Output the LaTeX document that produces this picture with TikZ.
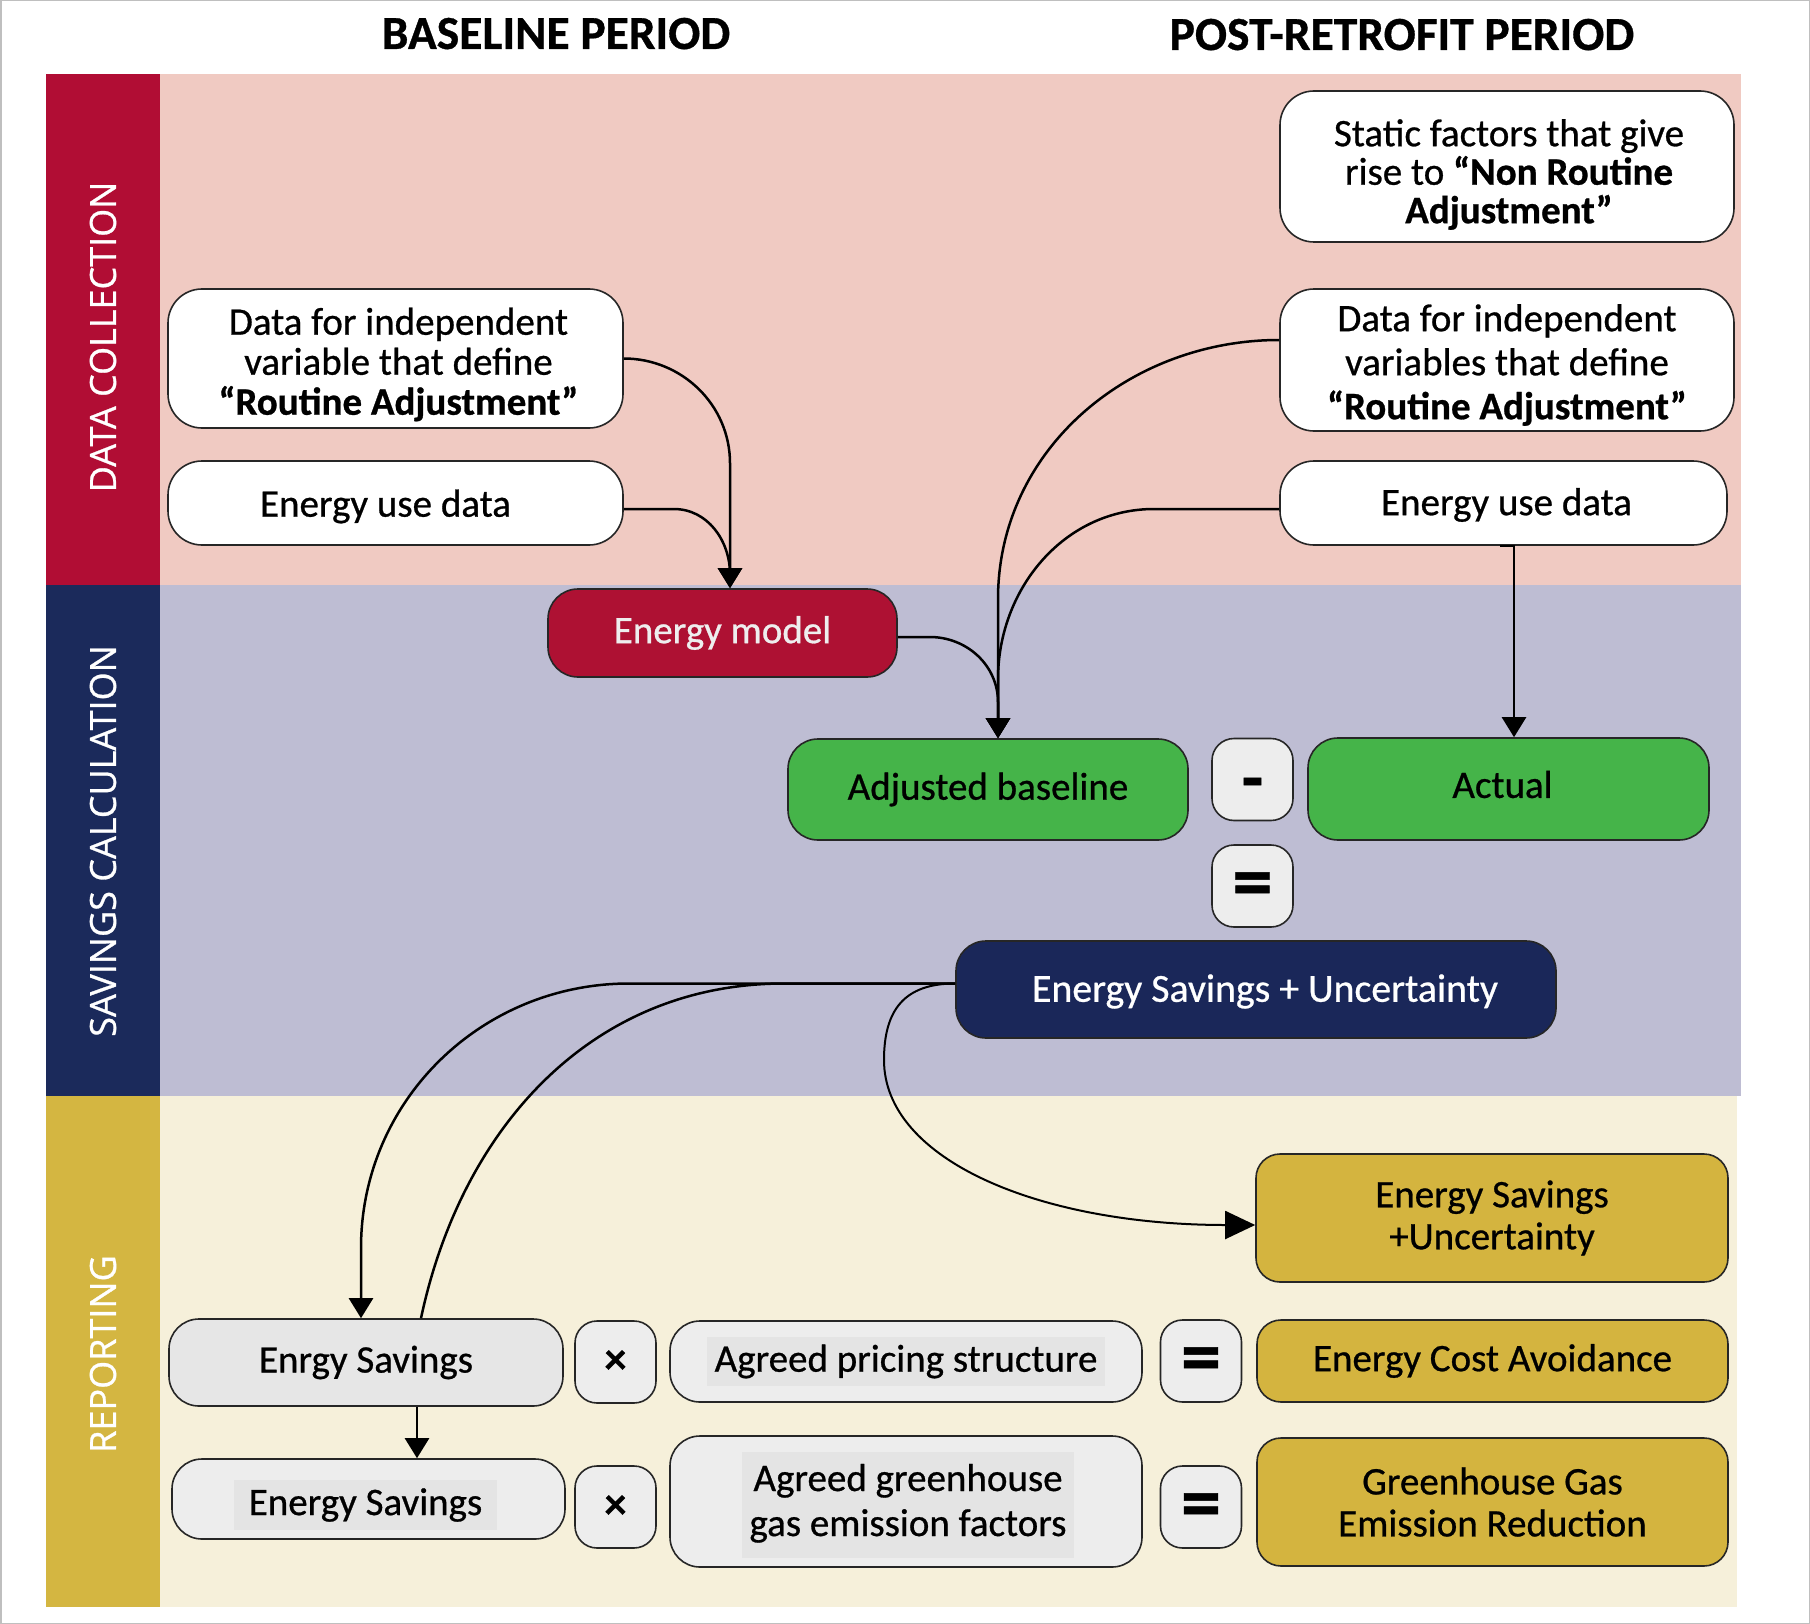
\documentclass[tikz,border=0pt]{standalone}
\usepackage{fontspec}
\setmainfont{Carlito}[UprightFeatures={FakeBold=0.7},BoldFeatures={FakeBold=0.7}]
\newfontfamily\sidefont{Open Sans}[UprightFeatures={FakeBold=0.8}]
\usetikzlibrary{arrows.meta,calc}
\definecolor{dcband}{HTML}{B10D34}
\definecolor{dcbg}{HTML}{F0CAC2}
\definecolor{scband}{HTML}{1B2A5B}
\definecolor{scbg}{HTML}{BEBDD3}
\definecolor{rpband}{HTML}{D4B641}
\definecolor{rpbg}{HTML}{F6F0DA}
\definecolor{modelred}{HTML}{AE1133}
\definecolor{greenbox}{HTML}{45B449}
\definecolor{navybox}{HTML}{1A2759}
\definecolor{goldbox}{HTML}{D4B43F}
\definecolor{graybox}{HTML}{E6E6E6}
\definecolor{dotbox}{HTML}{EDEDED}
\definecolor{hl}{HTML}{E4E4E4}
\definecolor{modeltext}{HTML}{EEEEEE}
\setlength{\fboxsep}{8pt}
\tikzset{
  bx/.style={draw=black!85, line width=1.6pt, rounded corners=30pt},
  wbox/.style={bx, fill=white, rounded corners=34pt},
  redbox/.style={bx, fill=modelred, text=modeltext},
  grnbox/.style={bx, fill=greenbox},
  navbox/.style={bx, fill=navybox, text=white},
  gldbox/.style={bx, fill=goldbox, rounded corners=24pt},
  gbox/.style={bx, fill=graybox},
  dbox/.style={bx, fill=dotbox},
  opbox/.style={bx, fill=dotbox, rounded corners=22pt, minimum width=81pt, minimum height=82pt},
  bigop/.style={font=\bfseries\fontsize{80}{80}\selectfont},
  midop/.style={font=\bfseries\fontsize{44}{44}\selectfont},
  side/.style={font=\sidefont\fontsize{36}{36}\selectfont, text=white, rotate=90},
  ttl/.style={font=\bfseries\fontsize{47.5}{48}\selectfont, anchor=base},
  conn/.style={line width=2.5pt, draw=black},
  arr/.style={conn, -{Triangle[width=24pt,length=20pt]}},
  arrbig/.style={conn, line width=2pt, -{Triangle[width=28pt,length=30pt]}},
  every node/.style={font=\fontsize{39}{42}\selectfont, inner sep=0pt, align=center}
}
\begin{document}
\begin{tikzpicture}[x=1pt,y=-1pt]
\useasboundingbox (0,0) rectangle (1810,1624);
\fill[white] (0,0) rectangle (1810,1624);
\draw[draw=black!25, line width=3pt] (0,0) rectangle (1810,1624);

% bands
\fill[dcbg] (160,74) rectangle (1741,585);
\fill[dcband] (46,74) rectangle (160,585);
\fill[scbg] (160,585) rectangle (1741,1096);
\fill[scband] (46,585) rectangle (160,1096);
\fill[rpbg] (160,1096) rectangle (1737,1607);
\fill[rpband] (46,1096) rectangle (160,1607);

% titles and side labels
\node[ttl] (t1) at (556,49) {BASELINE PERIOD};
\node[ttl] (t2) at (1402,50) {POST-RETROFIT PERIOD};
\node[side] (l1) at (103,337) {DATA COLLECTION};
\node[side] (l2) at (103,841) {SAVINGS CALCULATION};
\node[side] (l3) at (103,1354) {REPORTING};

% data collection
\node[wbox, minimum width=454pt, minimum height=151pt] (static) at (1507,166.5) {};
\node[font=\fontsize{39}{38.5}\selectfont] (staticT) at ($(static.center)+(2,8)$) {Static factors that give\\ rise to \textbf{“Non Routine}\\ \textbf{Adjustment”}};
\node[wbox, minimum width=454pt, minimum height=142pt] (postdata) at (1507,360) {};
\node[font=\fontsize{39}{44}\selectfont] (postdataT) at ($(postdata.center)+(0,5)$) {Data for independent\\ variables that define\\ \textbf{“Routine Adjustment”}};
\node[wbox, minimum width=447pt, minimum height=84pt] (postuse) at (1503.5,503) {};
\node (postuseT) at ($(postuse.center)+(3,2)$) {Energy use data};
\node[wbox, minimum width=455pt, minimum height=139pt] (basedata) at (395.5,358.5) {};
\node[font=\fontsize{39}{40}\selectfont] (basedataT) at ($(basedata.center)+(3,6)$) {Data for independent\\ variable that define\\ \textbf{“Routine Adjustment”}};
\node[wbox, minimum width=455pt, minimum height=84pt] (baseuse) at (395.5,503) {};
\node (baseuseT) at ($(baseuse.center)+(-10,3.5)$) {Energy use data};

% savings calculation
\node[redbox, minimum width=349pt, minimum height=88pt] (model) at (722.5,633) {Energy model};
\node[grnbox, minimum width=400pt, minimum height=101pt] (adjusted) at (988,789.5) {Adjusted baseline};
\node[grnbox, minimum width=401pt, minimum height=102pt] (actual) at (1508.5,789) {};
\node (actualT) at ($(actual.center)+(-6,-4.5)$) {Actual};
\node[opbox, font=\bfseries\fontsize{70}{70}\selectfont] (minus) at (1252.5,779.5) {\raisebox{-22pt}[0pt][0pt]{-}};
\node[opbox, bigop] (equal) at (1252.5,886) {\raisebox{-22pt}[0pt][0pt]{=}};
\node[navbox, minimum width=600pt, minimum height=97pt] (savings) at (1256,989.5) {};
\node[text=white, font=\fontsize{39.8}{42}\selectfont] (savingsT) at ($(savings.center)+(9,2)$) {Energy Savings + Uncertainty};

% reporting
\node[gldbox, minimum width=472pt, minimum height=128pt] (repsav) at (1492,1218) {Energy Savings\\ +Uncertainty};
\node[gbox, minimum width=394pt, minimum height=87pt] (enrgy) at (366,1362.5) {Enrgy Savings};
\node[opbox, midop] (times1) at (615.5,1362) {×};
\node[dbox, minimum width=472pt, minimum height=81pt] (pricing) at (906,1361.5) {\colorbox{hl}{Agreed pricing structure}};
\node[dbox, minimum width=393pt, minimum height=80pt] (esav2) at (368.5,1499) {};
\node (esav2T) at ($(esav2.center)+(-3,6)$) {\colorbox{hl}{\,Energy Savings\,}};
\node[opbox, midop] (times2) at (615.5,1507) {×};
\node[dbox, minimum width=472pt, minimum height=131pt] (ghgfac) at (906,1501.5) {};
\node[font=\fontsize{39}{45}\selectfont] (ghgfacT) at ($(ghgfac.center)+(2,3)$) {\colorbox{hl}{\begin{tabular}{@{}c@{}}Agreed greenhouse\\ gas emission factors\end{tabular}}};
\node[opbox, bigop] (eq1) at (1201,1361) {\raisebox{-22pt}[0pt][0pt]{=}};
\node[gldbox, minimum width=471pt, minimum height=82pt] (cost) at (1492.5,1361) {Energy Cost Avoidance};
\node[opbox, bigop] (eq2) at (1201,1507) {\raisebox{-22pt}[0pt][0pt]{=}};
\node[gldbox, minimum width=471pt, minimum height=128pt] (ghgred) at (1492.5,1502) {Greenhouse Gas\\ Emission Reduction};

% connectors
\coordinate (mT) at ($(model.north)+(7.5,0)$);
\draw[arr] (basedata.east) to[out=0,in=90] ($(mT)+(0,-125)$) -- (mT);
\draw[arr] ($(baseuse.east)+(0,6)$) -- ++(50,0) to[out=0,in=90] ($(mT)+(0,-14)$) -- (mT);

\coordinate (aT) at ($(adjusted.north)+(10,0)$);
\draw[arr] ($(model.east)+(0,4)$) -- ++(32,0) to[out=0,in=90] ($(aT)+(0,-36)$) -- (aT);
\draw[arr] ($(postdata.west)+(0,-20)$) to[out=180,in=90] ($(aT)+(0,-139)$) -- (aT);
\draw[arr] ($(postuse.west)+(0,6)$) -- ++(-125,0) to[out=180,in=90] ($(aT)+(0,-59)$) -- (aT);

\coordinate (acT) at ($(actual.north)+(5.5,0)$);
\draw[arr] ($(postuse.south)+(-4,0)$) -| (acT);

\coordinate (sW) at ($(savings.west)+(0,-6)$);
\coordinate (eT) at ($(enrgy.north)+(-5,0)$);
\draw[arr] (sW) -- ++(-326,0) to[out=180,in=90] ($(eT)+(0,-70)$) -- (eT);
\draw[conn] (sW) -- ++(-171,0) to[out=180,in=78] ($(enrgy.north)+(55,0)$);
\draw[arrbig] (sW) .. controls +(-51,0) and (884,1010) .. (884,1060) .. controls (884,1160) and (1040,1225) .. ($(repsav.west)+(0,7)$);

\coordinate (j1) at ($(enrgy.south)+(51,0)$);
\draw[arr] (j1) -- (j1 |- esav2.north);
\end{tikzpicture}
\end{document}
